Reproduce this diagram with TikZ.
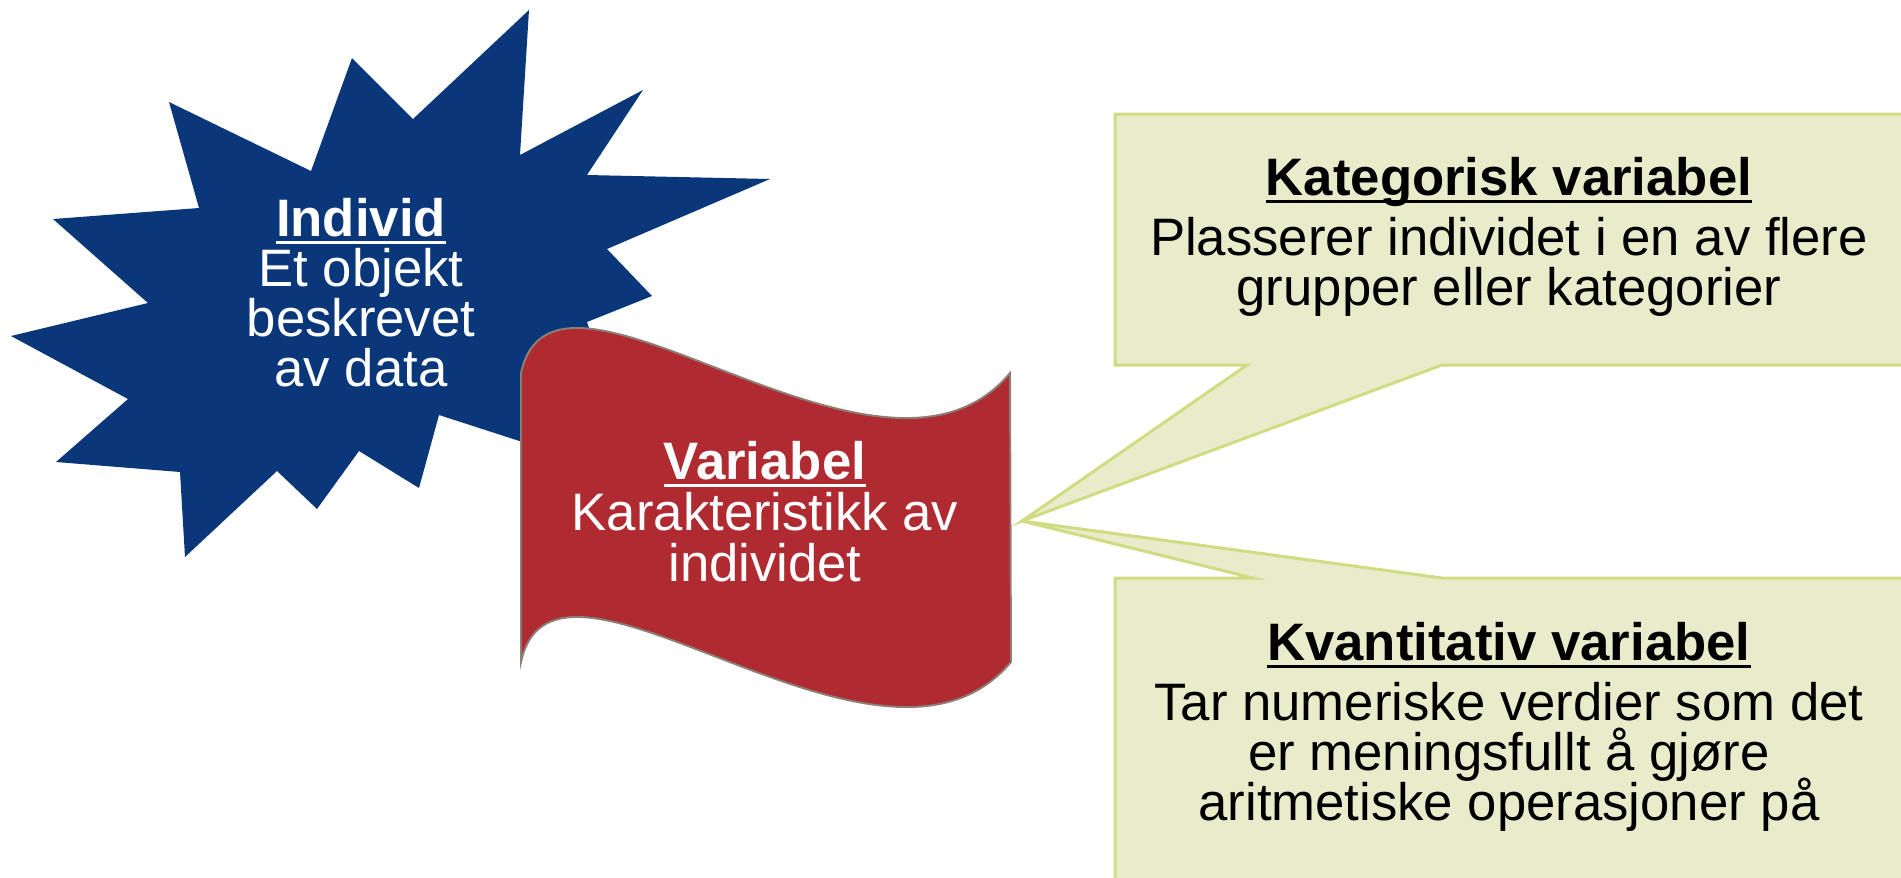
\documentclass[tikz,border=0pt]{standalone}
\usepackage{fontspec}
\setmainfont{Liberation Sans}
\definecolor{stardark}{RGB}{10,55,122}
\definecolor{flagred}{RGB}{176,42,50}
\definecolor{flagedge}{RGB}{140,128,118}
\definecolor{notefill}{RGB}{232,236,203}
\definecolor{noteedge}{RGB}{208,220,130}
\newcommand{\ulbf}[1]{\setbox0\hbox{\bfseries #1}\rlap{\rule[-0.14em]{\wd0}{0.055em}}\box0}
\lineskiplimit=-100pt

\begin{document}
\begin{tikzpicture}[x=0.02cm,y=-0.02cm,
    txt/.style={align=center,inner sep=0pt,font=\fontsize{30}{28.5}\selectfont}]
    \useasboundingbox (0,0) rectangle (1901,877);
    \clip (0,0) rectangle (1901,877);
    \fill[stardark] (529,10) -- (520,155) -- (643,90) -- (587,175) -- (770,179)
      -- (607,249) -- (652,296) -- (587,322) -- (640,480) -- (439,415) -- (419,488)
      -- (359,451) -- (317,509) -- (277,471) -- (185,557) -- (180,472) -- (56,462)
      -- (128,399) -- (11,336) -- (148,303) -- (53,219) -- (199,208) -- (169,102)
      -- (311,171) -- (352,58) -- (413,119) -- cycle;
    \filldraw[fill=flagred,draw=flagedge,line width=1.1pt]
      (521,373) .. controls (555,217) and (880,529) .. (1010,373) -- (1011,662)
      .. controls (880,818) and (555,506) .. (521,662) -- cycle;
    \coordinate (tip) at (1022,521);
    \filldraw[fill=notefill,draw=noteedge,line width=1.7pt]
      (1115,114) -- (1960,114) -- (1960,365) -- (1442,365) -- (tip) -- (1247,365)
      -- (1115,365) -- cycle;
    \filldraw[fill=notefill,draw=noteedge,line width=1.7pt]
      (1115,578) -- (1253,578) -- (tip) -- (1442,578) -- (1960,578) -- (1960,950)
      -- (1115,950) -- cycle;
    \node[txt,text=white] (individ) at (361,293)
      {\ulbf{Individ}\\Et objekt\\beskrevet\\av data};
    \node[txt,text=white,font=\fontsize{30}{29}\selectfont] (variabel) at (765,512)
      {\ulbf{Variabel}\\Karakteristikk av\\individet};
    \node[txt] (kategorisk) at (1509,237)
      {\ulbf{Kategorisk variabel}\\[5.7pt]Plasserer individet i en av flere\\grupper eller kategorier};
    \node[txt] (kvantitativ) at (1509,727)
      {\ulbf{Kvantitativ variabel}\\[5.7pt]Tar numeriske verdier som det\\er meningsfullt å gjøre\\aritmetiske operasjoner på};
\end{tikzpicture}
\end{document}
